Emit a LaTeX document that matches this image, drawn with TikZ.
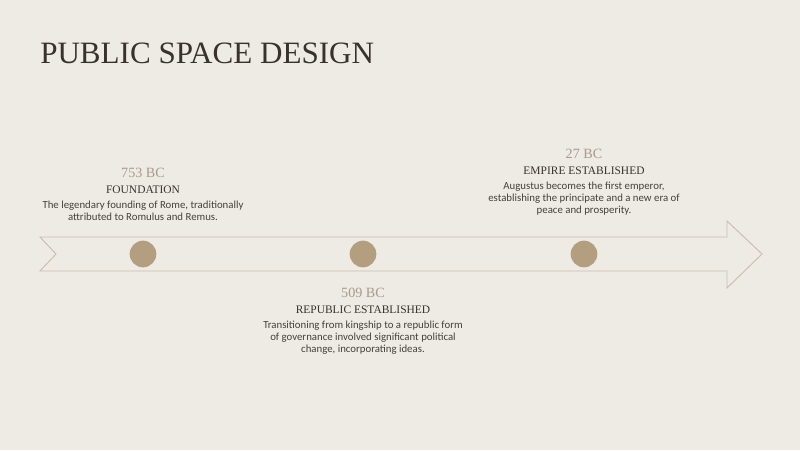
\documentclass[tikz,border=0pt]{standalone}
\usepackage{fontspec}
\setmainfont{Liberation Serif}
\newfontfamily\textofont{Carlito}
\usetikzlibrary{positioning}

\definecolor{fondo}{RGB}{238,234,228}
\definecolor{linea}{RGB}{204,188,176}
\definecolor{punto}{RGB}{180,158,128}
\definecolor{fechacol}{RGB}{168,154,140}
\definecolor{oscuro}{RGB}{56,50,42}
\definecolor{gris}{RGB}{68,64,60}

\tikzset{
  estilo linea/.style={
      x=0.75pt, y=-0.75pt,
      hito/.style={circle, fill=punto, minimum size=20pt, inner sep=0pt},
      fecha/.style={font={\fontsize{10.6}{13}\selectfont}, text=fechacol, anchor=base, inner sep=0pt},
      evento/.style={font={\fontsize{8.6}{10}\selectfont}, text=oscuro, inner sep=0pt, below=12pt of ##1.base, anchor=base},
      texto/.style={font={\textofont\fontsize{8.1}{8.7}\selectfont}, text=gris, align=center, inner sep=0pt, below=5.8pt of ##1},
      titulo/.style={font={\fontsize{23.3}{27}\selectfont}, text=oscuro, anchor=base west, inner sep=0pt},
    },
}

\begin{document}
\begin{tikzpicture}[estilo linea]
  \fill[fondo] (0,0) rectangle (800,450);
  \useasboundingbox (0,0) rectangle (800,450);

  \node[titulo] (titulo) at (40,63) {PUBLIC SPACE DESIGN};

  % flecha
  \draw[linea, line width=0.7pt, line join=miter] (40,237) -- (727,237) -- (727,221) -- (762,254)
    -- (727,288) -- (727,271) -- (40,271) -- (56,254) -- cycle;

  \node[hito] (h1) at (143,254) {};
  \node[hito] (h2) at (363,254) {};
  \node[hito] (h3) at (584,254) {};

  \node[fecha] (f1) at (143,177) {753 BC};
  \node[evento=f1] (e1) {FOUNDATION};
  \node[texto=e1] (t1) {The legendary founding of Rome, traditionally\\attributed to Romulus and Remus.};

  \node[fecha] (f2) at (363,297) {509 BC};
  \node[evento=f2] (e2) {REPUBLIC ESTABLISHED};
  \node[texto=e2] (t2) {Transitioning from kingship to a republic form\\of governance involved significant political\\change, incorporating ideas.};

  \node[fecha] (f3) at (584,158) {27 BC};
  \node[evento=f3] (e3) {EMPIRE ESTABLISHED};
  \node[texto=e3] (t3) {Augustus becomes the first emperor,\\establishing the principate and a new era of\\peace and prosperity.};
\end{tikzpicture}
\end{document}
